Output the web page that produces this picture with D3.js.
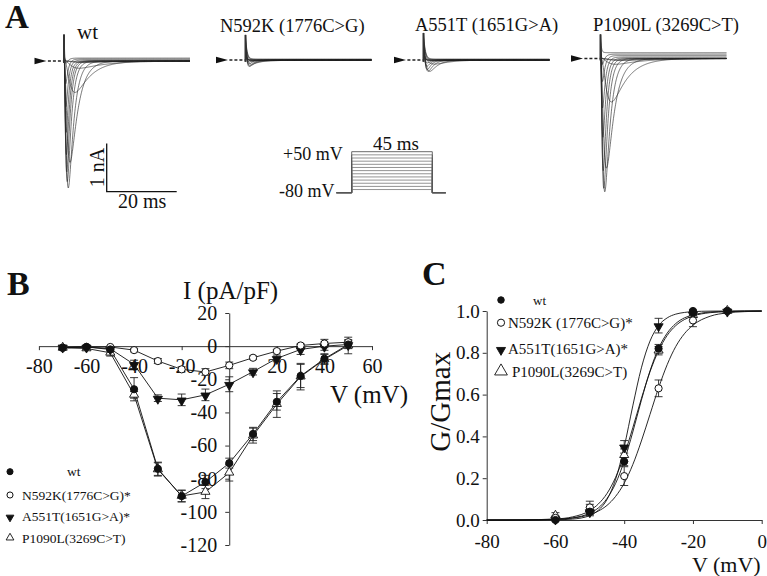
<!DOCTYPE html>
<html><head><meta charset="utf-8">
<script src="https://cdn.jsdelivr.net/npm/d3@7"></script>
<style>
body{margin:0;background:#fff}
svg{display:block;background:#fff}
svg text{font-family:"Liberation Serif","Times New Roman",Times,serif}
</style>
</head><body>
<svg id="c" width="767" height="576"></svg>
<script>
// ================= DATA =================
// Panel A : representative current families
const traceTitles = ["wt", "N592K (1776C>G)", "A551T (1651G>A)", "P1090L (3269C>T)"];
const stepVoltages = [-70, -60, -50, -40, -30, -20, -10, 0, 10, 20, 30, 40, 50];
// read kinetics per step (ms): activation / inactivation time constants
const tauAct   = [2.2, 1.9, 1.6, 1.35, 0.75, 0.55, 0.42, 0.35, 0.3, 0.26, 0.23, 0.2, 0.18];
const tauInact = [12, 10, 7.5, 4.2, 2.2, 1.5, 1.15, 0.95, 0.85, 0.75, 0.68, 0.62, 0.58];
// peak inward current per step (nA)
const peakWT     = [0.02, 0.03, 0.15, 0.65, 2.1, 2.63, 2.5, 2.3, 1.95, 1.5, 1.0, 0.55, 0.15];
const peakN592K  = [0.01, 0.01, 0.01, 0.04, 0.09, 0.13, 0.15, 0.11, 0.07, 0.03, 0.0, -0.02, -0.03];
const peakA551T  = [0.005, 0.005, 0.02, 0.085, 0.24, 0.25, 0.23, 0.18, 0.12, 0.06, 0.015, 0.0, -0.01];
const peakP1090L = [0.03, 0.04, 0.12, 0.9, 2.27, 2.76, 2.69, 2.33, 1.65, 1.07, 0.56, 0.24, -0.01];
// sustained outward component per step (nA)
const steadyWT     = [0, 0, 0, 0, 0, 0, 0, 0, 0, 0, 0.02, 0.04, 0.06];
const steadyN592K  = [0, 0, 0, 0, 0, 0, 0, 0, 0, 0, 0, 0.01, 0.02];
const steadyA551T  = [0, 0, 0, 0, 0, 0, 0, 0, 0, 0, 0, 0.01, 0.02];
const steadyP1090L = [0, 0, 0, 0, 0, 0, 0, 0, 0.01, 0.03, 0.06, 0.09, 0.12];
// capacitive transient (nA peak, ms decay)
const capPeak = [0.55, 0.52, 0.56, 0.5];
const capTau  = [0.2, 0.35, 0.45, 0.2];
const protocolLabels = ["+50 mV", "-80 mV", "45 ms"];
const protocolLevels = [-80, 50];
const pulseMs = 45;

// Panel B : I-V relationship
const legendB = ["wt", "N592K(1776C>G)*", "A551T(1651G>A)*", "P1090L(3269C>T)"];
const bV = [-70, -60, -50, -40, -30, -20, -10, 0, 10, 20, 30, 40, 50];
const iWT     = [-1, -0.5, -2, -26, -74, -90.5, -82, -70.6, -53, -33.6, -18, -7.6, 1];
const iN592K  = [-1, -0.5, -0.5, -2.4, -9, -14, -15.6, -11.6, -7, -3, 0.4, 1.6, 2.4];
const iA551T  = [-0.5, -0.5, -1.6, -11, -31.4, -32.4, -29.4, -23, -15.4, -7.4, -2, 0, 1];
const iP1090L = [-1, -1.4, -4, -29.4, -74.4, -90.4, -88, -76.4, -54, -35, -18.4, -8, 0.4];
const eWT     = [0.5, 0.5, 1, 7, 4, 3.5, 4, 3, 4, 5, 7, 3, 2];
const eN592K  = [0.5, 0.5, 0.5, 1, 1.5, 1.5, 2, 2, 1, 1, 1, 2.5, 1.5];
const eA551T  = [0.5, 0.5, 1, 2.5, 2, 3.5, 3.5, 4.5, 2, 2, 3, 2.5, 2.5];
const eP1090L = [1.5, 1, 2, 2, 4, 3.5, 4, 5, 4.5, 8, 8, 3, 5];
const bXTicks = [-80, -60, -40, -20, 20, 40, 60];
const bYTicks = [20, 0, -20, -40, -60, -80, -100, -120];

// Panel C : conductance-voltage
const legendC = ["wt", "N592K (1776C>G)*", "A551T(1651G>A)*", "P1090L(3269C>T)"];
const cV = [-60, -50, -40, -30, -20, -10];
const gWT     = [0.0, 0.04, 0.28, 0.82, 1.0, 1.0];
const gN592K  = [0.01, 0.06, 0.21, 0.63, 0.955, 1.0];
const gA551T  = [0.005, 0.04, 0.35, 0.93, 0.985, 1.0];
const gP1090L = [0.02, 0.05, 0.31, 0.81, 0.98, 1.0];
const geWT     = [0.005, 0.01, 0.02, 0.02, 0.005, 0.003];
const geN592K  = [0.01, 0.03, 0.045, 0.04, 0.03, 0.005];
const geA551T  = [0.01, 0.02, 0.03, 0.035, 0.01, 0.003];
const geP1090L = [0.015, 0.025, 0.03, 0.02, 0.01, 0.003];
// Boltzmann fit curves, read at these voltages
const fitV      = [-80, -70, -60, -55, -50, -47.5, -45, -42.5, -40, -37.5, -35, -32.5, -30, -27.5, -25, -22.5, -20, -15, -10, -5, 0];
const fitWT     = [0, 0.0002, 0.003, 0.01, 0.033, 0.058, 0.103, 0.175, 0.282, 0.421, 0.573, 0.713, 0.821, 0.894, 0.94, 0.967, 0.981, 0.995, 0.998, 0.9995, 1];
const fitN592K  = [0, 0.0004, 0.0033, 0.0093, 0.026, 0.043, 0.07, 0.113, 0.176, 0.265, 0.378, 0.505, 0.632, 0.743, 0.83, 0.891, 0.932, 0.975, 0.991, 0.997, 0.999];
const fitA551T  = [0, 0, 0.0009, 0.0044, 0.021, 0.047, 0.098, 0.195, 0.35, 0.546, 0.728, 0.856, 0.93, 0.967, 0.985, 0.993, 0.997, 0.9994, 1, 1, 1];
const fitP1090L = [0, 0.0005, 0.005, 0.015, 0.045, 0.077, 0.127, 0.204, 0.31, 0.441, 0.581, 0.709, 0.81, 0.883, 0.93, 0.959, 0.976, 0.992, 0.997, 0.999, 1];
const cXTicks = [-80, -60, -40, -20, 0];
const cYTicks = [0, 0.2, 0.4, 0.6, 0.8, 1.0];

// ================= DRAWING =================
const FONT = '"Liberation Serif","Times New Roman",Times,serif';
const INK = "#111";
const svg = d3.select("#c");

function txt(x, y, s, size, opts = {}) {
  const t = svg.append("text").attr("x", x).attr("y", y).text(s)
    .attr("font-family", FONT).attr("font-size", size).attr("fill", INK);
  if (opts.bold) t.attr("font-weight", "bold");
  if (opts.anchor) t.attr("text-anchor", opts.anchor);
  if (opts.rotate) t.attr("transform", `rotate(${opts.rotate},${x},${y})`);
  return t;
}

function marker(g, type, x, y, k = 1) {
  if (type === "fc" || type === "oc") {
    g.append("circle").attr("cx", x).attr("cy", y).attr("r", 3.6 * k)
      .attr("fill", type === "fc" ? INK : "#fff").attr("stroke", INK).attr("stroke-width", 1);
  } else {
    const p = d3.symbol(d3.symbolTriangle, 36 * k * k)();
    g.append("path").attr("d", p)
      .attr("transform", `translate(${x},${y + (type === "td" ? 0.8 : -0.3) * k}) rotate(${type === "td" ? 180 : 0})`)
      .attr("fill", type === "td" ? INK : "#fff").attr("stroke", INK).attr("stroke-width", 0.9);
  }
}

// ---------- Panel A ----------
txt(5, 28, "A", 33, { bold: true });
const aLayout = [
  { onset: 64, base: 61, tx: 77, ty: 39, fs: 21 },
  { onset: 245.5, base: 60, tx: 220, ty: 32, fs: 18.5 },
  { onset: 423.5, base: 60, tx: 415, ty: 31, fs: 18.5 },
  { onset: 600.5, base: 58.5, tx: 593, ty: 31, fs: 18.5 }
];
const peaks = [peakWT, peakN592K, peakA551T, peakP1090L];
const steadies = [steadyWT, steadyN592K, steadyA551T, steadyP1090L];
const PX_MS = 3.5, PX_NA = 48.3;
const tGrid = d3.range(0, 36.0001, 0.1);

aLayout.forEach((L, pi) => {
  const x = d3.scaleLinear().domain([0, 1]).range([L.onset, L.onset + PX_MS]);
  const y = d3.scaleLinear().domain([0, -1]).range([L.base, L.base + PX_NA]);
  const g = svg.append("g");
  txt(L.tx, L.ty, traceTitles[pi], L.fs);
  // holding arrow and pre-pulse dashed baseline
  const tip = x(-5);
  g.append("path").attr("d", `M${tip - 12},${y(0) - 3.2}L${tip},${y(0)}L${tip - 12},${y(0) + 3.2}Z`).attr("fill", INK);
  g.append("line").attr("x1", x(-4.6)).attr("x2", x(-0.2)).attr("y1", y(0)).attr("y2", y(0))
    .attr("stroke", "#222").attr("stroke-width", 1.3).attr("stroke-dasharray", "3,2");
  const line = d3.line().x(d => x(d[0])).y(d => y(d[1]));
  stepVoltages.forEach((v, i) => {
    const tm = tauAct[i], th = tauInact[i];
    const gate = tGrid.map(t => Math.pow(1 - Math.exp(-t / tm), 3) * Math.exp(-t / th));
    const gmax = d3.max(gate);
    const cap = capPeak[pi] * (v + 80) / 130;
    const pts = [[0, 0]].concat(tGrid.map((t, j) =>
      [t, -peaks[pi][i] * gate[j] / gmax + steadies[pi][i] * (1 - Math.exp(-t / tm)) + cap * Math.exp(-t / capTau[pi])]));
    g.append("path").attr("d", line(pts)).attr("fill", "none")
      .attr("stroke", "#262626").attr("stroke-width", 0.7).attr("stroke-opacity", 0.9);
  });
  // capacitive spike
  g.append("line").attr("x1", x(0)).attr("x2", x(0)).attr("y1", y(capPeak[pi])).attr("y2", y(-0.04))
    .attr("stroke", "#333").attr("stroke-width", 2);
});

// scale bars (1 nA, 20 ms) using the same px scales as the traces
{
  const sx = d3.scaleLinear().domain([0, 20]).range([106.7, 106.7 + 20 * PX_MS]);
  const sy = d3.scaleLinear().domain([0, 1]).range([191.7, 191.7 - PX_NA]);
  svg.append("path").attr("d", `M${sx(0)},${sy(1)}L${sx(0)},${sy(0)}L${sx(20)},${sy(0)}`)
    .attr("fill", "none").attr("stroke", INK).attr("stroke-width", 1.3);
  txt(104.5, (sy(0) + sy(1)) / 2, "1 nA", 20, { anchor: "middle", rotate: -90 });
  txt(118, 208, "20 ms", 20);
}

// voltage protocol
{
  const px = d3.scaleLinear().domain([0, pulseMs]).range([351.7, 432.3]);
  const py = d3.scaleLinear().domain(protocolLevels).range([192.7, 151.7]);
  const g = svg.append("g");
  const hold = protocolLevels[0];
  stepVoltages.forEach(v => {
    const d = [[-8.5, hold], [0, hold], [0, v], [pulseMs, v], [pulseMs, hold], [52.5, hold]];
    g.append("path").attr("d", d3.line().x(p => px(p[0])).y(p => py(p[1]))(d))
      .attr("fill", "none").attr("stroke", v === 50 ? "#444" : "#777").attr("stroke-width", 0.8);
  });
  txt(283, 159.5, protocolLabels[0], 18);
  txt(279, 197, protocolLabels[1], 18);
  txt(373, 150, protocolLabels[2], 19);
}

// ---------- Panel B ----------
txt(7, 295, "B", 34, { bold: true });
const xB = d3.scaleLinear().domain([-80, 60]).range([38.9, 372]);
const yB = d3.scaleLinear().domain([-120, 20]).range([545, 313]);
function styleAxis(sel, size) {
  sel.attr("font-family", FONT).attr("font-size", size);
  sel.selectAll("text").attr("fill", INK).attr("font-family", FONT);
  sel.selectAll("path,line").attr("stroke", "#333").attr("stroke-width", 1);
}
svg.append("g").attr("transform", `translate(0,${yB(0)})`)
  .call(d3.axisBottom(xB).tickValues(bXTicks).tickSize(4).tickSizeOuter(0).tickPadding(9).tickFormat(d => String(d)))
  .call(s => styleAxis(s, 20));
svg.append("g").attr("transform", `translate(${xB(0)},0)`)
  .call(d3.axisLeft(yB).tickValues(bYTicks).tickSize(4).tickSizeOuter(0).tickPadding(8).tickFormat(d => String(d)))
  .call(s => styleAxis(s, 20));
txt(183, 299, "I (pA/pF)", 25);
txt(330, 403, "V (mV)", 25);

const seriesB = [
  { vals: iWT, err: eWT, m: "fc" },
  { vals: iN592K, err: eN592K, m: "oc" },
  { vals: iA551T, err: eA551T, m: "td" },
  { vals: iP1090L, err: eP1090L, m: "tu" }
];
function drawSeries(xs, ys, xv, series, curveData) {
  const g = svg.append("g");
  if (!curveData) {
    series.forEach(s => {
      g.append("path").attr("d", d3.line().x((d, i) => xs(xv[i])).y(d => ys(d))(s.vals))
        .attr("fill", "none").attr("stroke", INK).attr("stroke-width", 0.9);
    });
  } else {
    curveData.forEach(c => {
      g.append("path").attr("d", d3.line().curve(d3.curveMonotoneX).x((d, i) => xs(fitV[i])).y(d => ys(d))(c))
        .attr("fill", "none").attr("stroke", INK).attr("stroke-width", 0.9);
    });
  }
  series.forEach(s => {
    s.vals.forEach((v, i) => {
      const x = xs(xv[i]), y1 = ys(v - s.err[i]), y2 = ys(v + s.err[i]);
      g.append("path").attr("d", `M${x},${y1}L${x},${y2}M${x - 4},${y1}L${x + 4},${y1}M${x - 4},${y2}L${x + 4},${y2}`)
        .attr("stroke", "#222").attr("stroke-width", 0.9).attr("fill", "none");
    });
  });
  [3, 2, 1, 0].forEach(k => {
    const s = series[k];
    s.vals.forEach((v, i) => marker(g, s.m, xs(xv[i]), ys(v)));
  });
}
drawSeries(xB, yB, bV, seriesB, null);

// legend B
{
  const g = svg.append("g");
  const rows = [471.7, 495, 516.7, 538];
  const tx = [67, 22, 22, 22];
  seriesB.forEach((s, i) => {
    marker(g, s.m, 10, rows[i], 0.85);
    txt(tx[i], rows[i] + 4.5, legendB[i], 13.5);
  });
}

// ---------- Panel C ----------
txt(422, 285, "C", 34, { bold: true });
const xC = d3.scaleLinear().domain([-80, 0]).range([486.7, 761.7]);
const yC = d3.scaleLinear().domain([0, 1]).range([520, 311]);
svg.append("g").attr("transform", `translate(0,${yC(0)})`)
  .call(d3.axisBottom(xC).tickValues(cXTicks).tickSize(4).tickSizeOuter(0).tickPadding(11).tickFormat(d => String(d)))
  .call(s => styleAxis(s, 19));
svg.append("g").attr("transform", `translate(${xC(-80)},0)`)
  .call(d3.axisLeft(yC).tickValues(cYTicks).tickSize(4).tickSizeOuter(0).tickPadding(3).tickFormat(d => d.toFixed(1)))
  .call(s => styleAxis(s, 19));
txt(450, 401.7, "G/Gmax", 29, { anchor: "middle", rotate: -90 });
txt(692, 571.5, "V (mV)", 22);

const seriesC = [
  { vals: gWT, err: geWT, m: "fc" },
  { vals: gN592K, err: geN592K, m: "oc" },
  { vals: gA551T, err: geA551T, m: "td" },
  { vals: gP1090L, err: geP1090L, m: "tu" }
];
drawSeries(xC, yC, cV, seriesC, [fitWT, fitN592K, fitA551T, fitP1090L]);

// legend C
{
  const g = svg.append("g");
  const rows = [300, 322.7, 349.3, 371.7];
  const tx = [533, 508, 508, 512];
  const ks = [0.9, 1, 1, 1.4];
  seriesC.forEach((s, i) => {
    marker(g, s.m, 501, rows[i], ks[i]);
    txt(tx[i], rows[i] + 5, legendC[i], i === 0 ? 13 : 15);
  });
}
</script>
</body></html>
